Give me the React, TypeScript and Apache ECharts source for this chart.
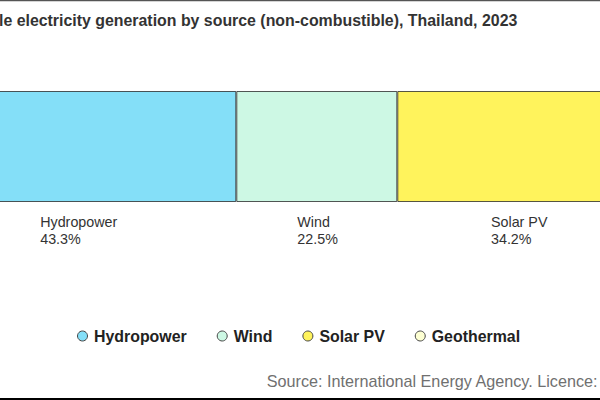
import React, { useEffect, useRef } from "react";
import * as echarts from "echarts";

const categories = ["Thailand 2023"];
const sources = ["Hydropower", "Wind", "Solar PV", "Geothermal"];
const shares = [43.3, 22.5, 34.2, 0.0];
const colors = ["#84DFF8", "#CDF8E4", "#FFF35C", "#FDFFD2"];
const labelOffsets: [number, number][] = [
  [113.7, 122],
  [61, 122],
  [93.7, 122],
  [0, 122],
];
const titleText =
  "Renewable electricity generation by source (non-combustible), Thailand, 2023";
const sourceText = "Source: International Energy Agency. Licence: CC BY 4.0";

// The reference is a crop of a wider chart: the chart canvas starts SHIFT px left of the page.
const SHIFT = 100;
const CHART_W = 760;
const FONT = "Liberation Sans, Arial, sans-serif";

export default function App() {
  const ref = useRef<HTMLDivElement>(null);
  useEffect(() => {
    if (!ref.current) return;
    const chart = echarts.init(ref.current, undefined, { renderer: "svg" });
    chart.setOption({
      animation: false,
      backgroundColor: "#ffffff",
      textStyle: { fontFamily: FONT },
      title: {
        text: titleText,
        left: SHIFT - 70.8,
        top: 12,
        padding: 0,
        textStyle: {
          fontSize: 15.9,
          fontWeight: "bold",
          color: "#333333",
          fontFamily: FONT,
        },
      },
      legend: {
        data: sources,
        left: SHIFT + 77,
        top: 328,
        padding: 0,
        icon: "circle",
        itemWidth: 13,
        itemHeight: 10,
        itemGap: 30,
        textStyle: {
          fontSize: 15.9,
          fontWeight: "bold",
          color: "#222222",
          fontFamily: FONT,
        },
        itemStyle: { borderColor: "#444444", borderWidth: 1 },
      },
      grid: { left: SHIFT - 73.5, right: CHART_W - SHIFT - 642, top: 91, height: 111 },
      xAxis: { type: "value", min: 0, max: 100, show: false },
      yAxis: { type: "category", data: categories, show: false },
      graphic: [
        {
          type: "rect",
          shape: { x: SHIFT, y: 0, width: 600, height: 1.2 },
          style: { fill: "#555555" },
        },
        {
          type: "rect",
          shape: { x: SHIFT, y: 398, width: 600, height: 2 },
          style: { fill: "#000000" },
        },
        {
          type: "text",
          x: SHIFT + 266.7,
          y: 381,
          style: {
            text: sourceText,
            fontSize: 16.2,
            fill: "#707070",
            fontFamily: FONT,
            textVerticalAlign: "middle",
          },
        },
      ],
      series: sources.map((name, i) => ({
        name,
        type: "bar",
        stack: "total",
        barWidth: "100%",
        itemStyle: {
          color: colors[i],
          borderColor: "rgba(30,30,30,0.75)",
          borderWidth: 1,
        },
        label: {
          show: shares[i] > 0,
          position: labelOffsets[i],
          formatter: () => `${name}\n${shares[i].toFixed(1)}%`,
          fontSize: 14.3,
          lineHeight: 17,
          color: "#333333",
          fontFamily: FONT,
        },
        data: [shares[i]],
      })),
    });
    return () => chart.dispose();
  }, []);
  return (
    <div
      style={{
        position: "fixed",
        left: 0,
        top: 0,
        width: 600,
        height: 400,
        overflow: "hidden",
        background: "#ffffff",
      }}
    >
      <div
        ref={ref}
        style={{ position: "absolute", left: -SHIFT, top: 0, width: CHART_W, height: 400 }}
      />
    </div>
  );
}
